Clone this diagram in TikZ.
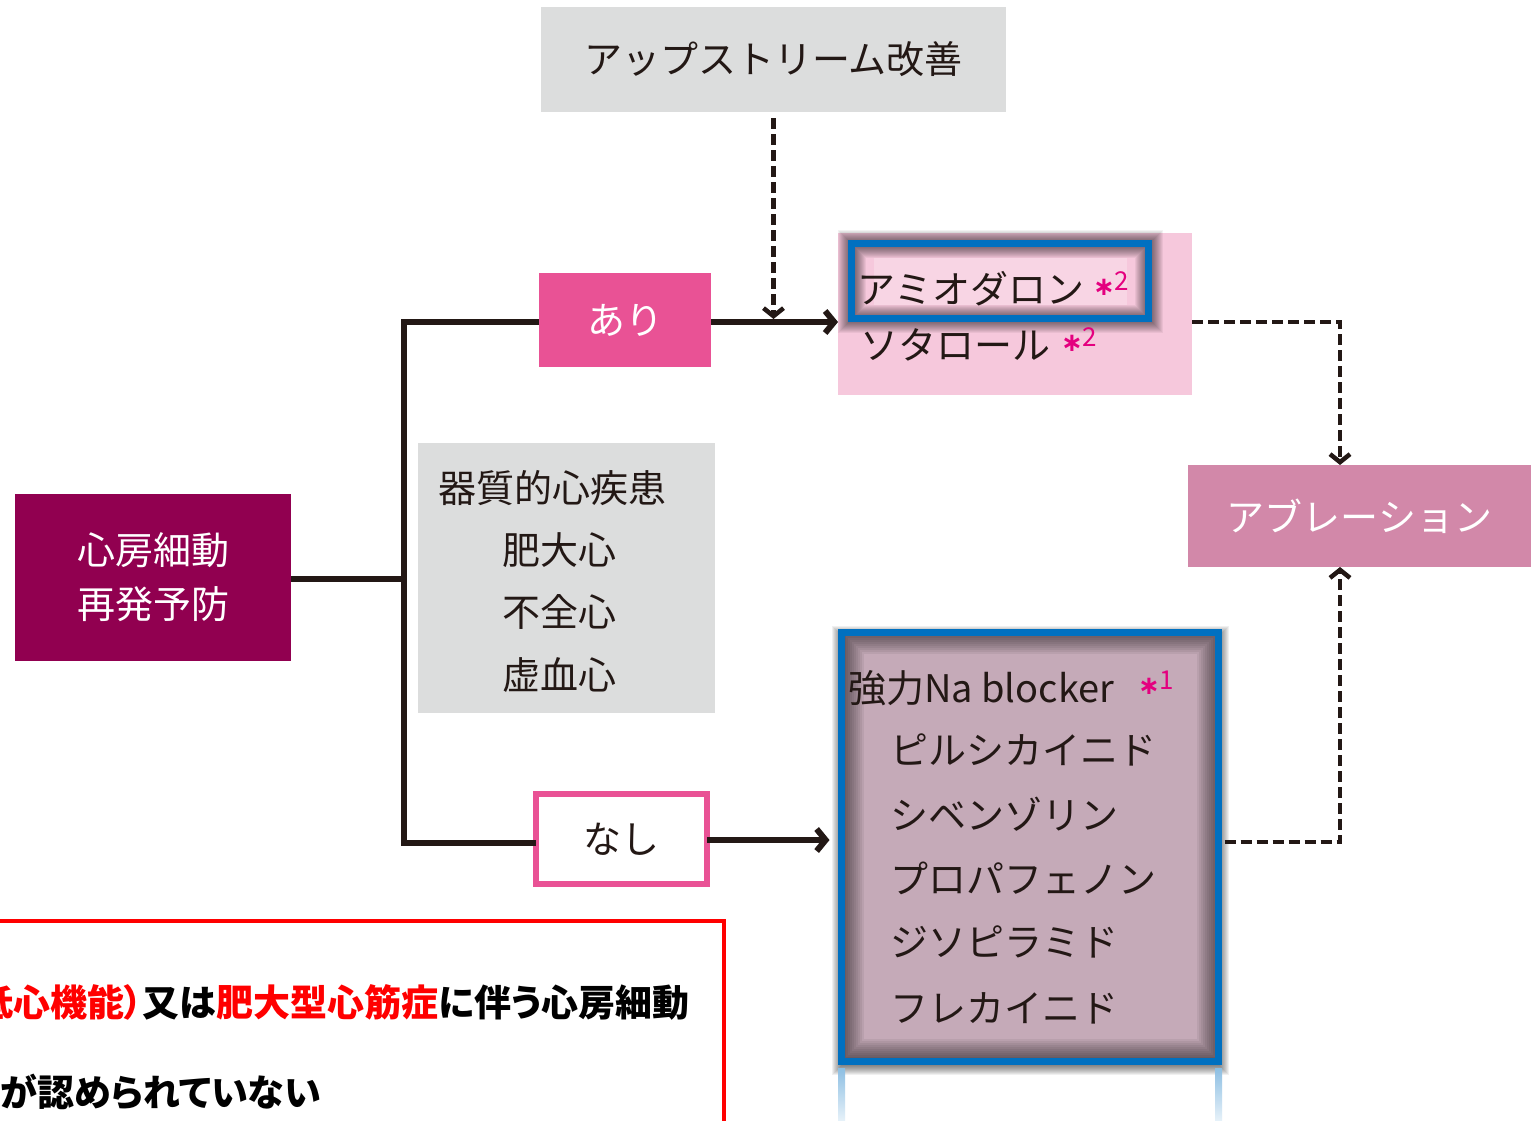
\documentclass[tikz,border=0pt]{standalone}
\usepackage{fontspec}
\setmainfont{Noto Sans CJK JP}
\newfontfamily\redjp[RawFeature={+palt}]{Noto Sans CJK JP}
\newfontfamily\djv{DejaVu Sans}
\usetikzlibrary{arrows.meta,calc}
\pgfdeclarelayer{bg}
\pgfsetlayers{bg,main}
\definecolor{ink}{HTML}{231815}
\definecolor{boxgray}{HTML}{DCDDDD}
\definecolor{aripink}{HTML}{E95295}
\definecolor{heartred}{HTML}{910050}
\definecolor{softpink}{HTML}{F6C8DC}
\definecolor{ablpink}{HTML}{D288A9}
\definecolor{mauve}{HTML}{C5AAB8}
\definecolor{hlblue}{HTML}{0070C0}
\definecolor{mag}{HTML}{E4007F}
\newcommand{\setfs}[1]{\fontsize{#1}{#1}\selectfont}
\newcommand{\starnote}[1]{\textcolor{mag}{{\djv\bfseries\setfs{26}∗}{\setfs{26}\raisebox{5pt}{#1}}}}
\begin{document}
\begin{tikzpicture}[x=1pt,y=-1pt,
  box/.style={rectangle, inner sep=0pt, outer sep=0pt},
  txt/.style={inner sep=0pt, outer sep=0pt, text=ink, font=\setfs{38}},
  mainline/.style={draw=ink, line width=6pt},
  mainarrow/.style={mainline, -{Straight Barb[length=9pt,width=22pt]}},
  dasharrow/.style={draw=ink, line width=4.5pt, dash pattern=on 11pt off 5pt, -{Straight Barb[length=8pt,width=20pt]}},
  blueline/.style={draw=hlblue, line width=7pt}]
\useasboundingbox (0,0) rectangle (1531,1120);
\begin{pgfonlayer}{bg}
\fill[white] (0,0) rectangle (1531,1120);
\end{pgfonlayer}

% boxes
\node[box, fill=boxgray, minimum width=465pt, minimum height=105pt, text=ink, font=\setfs{38}] (up) at (773.5,59.5) {アップストリーム改善};
\node[box, fill=aripink, minimum width=172pt, minimum height=94pt, text=white, font=\setfs{38}] (ari) at (625,320) {あり};
\node[box, fill=heartred, minimum width=276pt, minimum height=167pt, text=white, align=center, font={\fontsize{38}{54}\selectfont}] (heart) at (153,577) {心房細動\\再発予防};
\node[box, fill=boxgray, minimum width=297pt, minimum height=270pt] (cond) at (566.5,578) {};
\node[box, draw=aripink, line width=6pt, fill=white, minimum width=171pt, minimum height=90pt, text=ink, font=\setfs{38}] (nashi) at (621.5,839) {なし};
\node[box, fill=softpink, minimum width=354pt, minimum height=162pt] (pink) at (1015,314) {};
\node[box, minimum width=297pt, minimum height=75pt] (amio) at (1000,281) {};
\node[box, fill=ablpink, minimum width=343pt, minimum height=102pt, text=white, font=\setfs{38}] (abl) at (1359.5,516) {アブレーション};
\node[box, fill=mauve, minimum width=377pt, minimum height=429pt] (na) at (1030,846.5) {};

% shadows of the highlighted boxes
\foreach \w in {2,4,...,28}
  \draw[black, opacity=0.05, line width=\w pt] (amio.north west) rectangle (amio.south east);
\fill[white, opacity=0.25] ([shift={(22pt,-14pt)}]amio.north west) rectangle ([shift={(-22pt,14pt)}]amio.south east);
\draw[blueline] (amio.north west) rectangle (amio.south east);

\begin{pgfonlayer}{bg}
\foreach \w in {2,4,...,20}
  \draw[black, opacity=0.06, line width=\w pt] ([yshift=-4pt]na.north west) rectangle ([yshift=-4pt]na.south east);
\end{pgfonlayer}
\begin{scope}
\clip (na.north west) rectangle (na.south east);
\foreach \w in {4,8,...,44}
  \draw[black, opacity=0.06, line width=\w pt] (na.north west) rectangle (na.south east);
\end{scope}
\draw[blueline] (na.north west) rectangle (na.south east);
\shade[top color=hlblue!45, bottom color=hlblue!10] (838,1068) rectangle (845,1120);
\shade[top color=hlblue!45, bottom color=hlblue!10] (1215,1068) rectangle (1222,1120);

% texts
\node[txt, anchor=west] (c1) at (438,488) {器質的心疾患};
\node[txt, anchor=west] (c2) at (502,550) {肥大心};
\node[txt, anchor=west] (c3) at (502,612) {不全心};
\node[txt, anchor=west] (c4) at (502,675) {虚血心};

\node[txt, anchor=west] (a1) at (857,289) {アミオダロン};
\node[inner sep=0pt, anchor=west] (a1n) at (1093,284) {\starnote{2}};
\node[txt, anchor=west] (a2) at (860,345) {ソタロール};
\node[inner sep=0pt, anchor=west] (a2n) at (1061,340) {\starnote{2}};

\node[txt, anchor=west] (n0) at (848,688) {強力Na blocker};
\node[inner sep=0pt, anchor=west] (n0n) at (1138,683) {\starnote{1}};
\node[txt, anchor=west] (n1) at (890,750) {ピルシカイニド};
\node[txt, anchor=west] (n2) at (890,814) {シベンゾリン};
\node[txt, anchor=west] (n3) at (890,878) {プロパフェノン};
\node[txt, anchor=west] (n4) at (890,942) {ジソピラミド};
\node[txt, anchor=west] (n5) at (890,1008) {フレカイニド};

% connectors
\coordinate (trunk) at (404,579);
\draw[mainline] (heart.east |- trunk) -- (trunk);
\draw[mainline] (ari.west |- 0,322) -| (trunk) |- (nashi.west |- 0,843);
\draw[mainarrow] (ari.east |- 0,322) -- (pink.west |- 0,322);
\draw[mainarrow, shorten >=12pt] (nashi.east |- 0,840) -- (na.west |- 0,840);
\draw[dasharrow, shorten <=6pt, shorten >=1pt] (up.south) -- (up.south |- 0,320);
\draw[dasharrow] (pink.east |- 0,322) -| ($(abl.north)+(-19.5,0)$);
\draw[dasharrow, shorten <=6pt] (na.east |- 0,842) -| ($(abl.south)+(-19.5,0)$);

% red note box
\begin{scope}
\clip (0,0) rectangle (1531,1120);
\draw[red, line width=4pt] (-20,921) rectangle (724,1140);
\node[inner sep=0pt, anchor=east, text=black, font=\redjp\bfseries\setfs{37}] (note1) at (690,1002) {\textcolor{red}{低心機能）}又は\textcolor{red}{肥大型心筋症}に伴う心房細動};
\node[inner sep=0pt, anchor=west, text=black, font=\redjp\bfseries\setfs{37}] (note2) at (0,1092) {が認められていない};
\end{scope}
\end{tikzpicture}
\end{document}
